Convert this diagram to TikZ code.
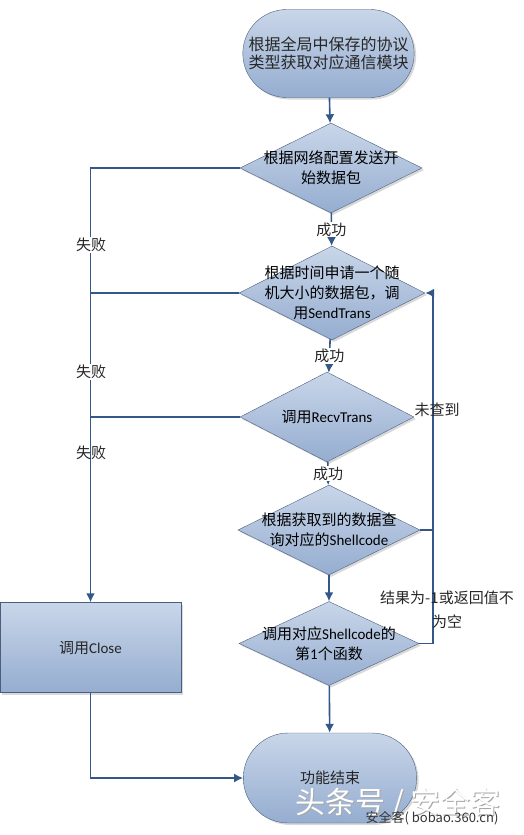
\documentclass[tikz,border=0pt]{standalone}
\usepackage{fontspec}
\setmainfont{Noto Sans CJK SC}
\newfontfamily\enfont{Carlito}
\newcommand{\en}[1]{{\enfont #1}}
\usetikzlibrary{shapes.geometric,shapes.misc,shadows,arrows.meta}
\definecolor{flowline}{HTML}{34578A}
\definecolor{shapeedge}{HTML}{4A5F7E}
\definecolor{shapetop}{HTML}{C9D6E9}
\definecolor{shapebot}{HTML}{95ADD0}
\tikzset{
  box/.style={draw=shapeedge, thin, top color=shapetop, bottom color=shapebot,
    drop shadow={opacity=.3, shadow xshift=2bp, shadow yshift=-2bp}, text=black!85},
  terminal/.style={box, rounded rectangle, minimum width=178bp, minimum height=88bp, align=center},
  decision/.style={box, diamond, inner sep=0pt},
  process/.style={box, rectangle, minimum width=181bp, minimum height=90bp},
  flow/.style={draw=flowline, line width=1.6bp},
  tip/.style={-{Latex[length=9bp,width=9bp]}},
  lbl/.style={fill=white, inner sep=1bp, text=black!85}
}
\begin{document}
\begin{tikzpicture}[x=1bp,y=-1bp,font=\fontsize{15bp}{20bp}\selectfont]
\useasboundingbox (0,0) rectangle (524,835);
\node[terminal, font=\fontsize{16bp}{18bp}\selectfont] (start) at (328.5,53.5) {根据全局中保存的协议\\类型获取对应通信模块};
\node[decision, minimum width=182bp, minimum height=90bp, label={[align=center]center:{根据网络配置发送开\\始数据包}}] (send) at (331,168) {};
\node[decision, minimum width=186bp, minimum height=94bp, label={[align=center]center:{根据时间申请一个随\\机大小的数据包，调\\用\en{SendTrans}}}] (alloc) at (332,293) {};
\node[decision, minimum width=174bp, minimum height=90bp, label={[align=center]center:{调用\en{RecvTrans}}}] (recv) at (327,417) {};
\node[decision, minimum width=182bp, minimum height=90bp, label={[align=center]center:{根据获取到的数据查\\询对应的\en{Shellcode}}}] (query) at (329,530) {};
\node[decision, minimum width=180bp, minimum height=84bp, label={[align=center]center:{调用对应\en{Shellcode}的\\第\en{1}个函数}}] (call) at (329,643.5) {};
\node[process] (close) at (90.5,647.5) {调用\en{Close}};
\node[terminal, minimum width=180bp, minimum height=90bp] (finish) at (330,778) {功能结束};

\coordinate (back) at (433,293);

\draw[flow,tip] (start) -- (send);
\draw[flow,tip] (send) -- node[lbl] (ok1) {成功} (alloc);
\draw[flow,tip] (alloc) -- node[lbl] (ok2) {成功} (recv);
\draw[flow,tip] (recv) -- node[lbl] (ok3) {成功} (query);
\draw[flow,tip] (query) -- (call);
\draw[flow,tip] (call) -- (finish);
\draw[flow,tip] (send.west) -| (close.north);
\draw[flow] (alloc.west) -- (alloc.west -| close.north);
\draw[flow] (recv.west) -- (recv.west -| close.north);
\draw[flow,tip] (close.south) |- (finish.west);
\draw[flow] (query.east) -- (query.east -| back);
\draw[flow,tip] (call.east) -| (back) -- (alloc.east);

\node[lbl] (fail1) at (91,245) {失败};
\node[lbl] (fail2) at (91,372) {失败};
\node[lbl,fill=none] (fail3) at (91,453) {失败};
\node[text=black!85] (miss) at (437,410) {未查到};
\node[text=black!85, align=center, font=\fontsize{15bp}{24bp}\selectfont] (result) at (447,610) {结果为-1或返回值不\\为空};

\node[text=gray!70, font=\fontsize{30bp}{30bp}\selectfont] at (399,804) {头条号 / 安全客};
\node[text=white, font=\fontsize{30bp}{30bp}\selectfont] (mark) at (398,803) {头条号 / 安全客};
\node[text=black!80, font=\fontsize{13bp}{14bp}\selectfont] (site) at (432,818) {安全客( bobao.360.cn)};
\end{tikzpicture}
\end{document}
